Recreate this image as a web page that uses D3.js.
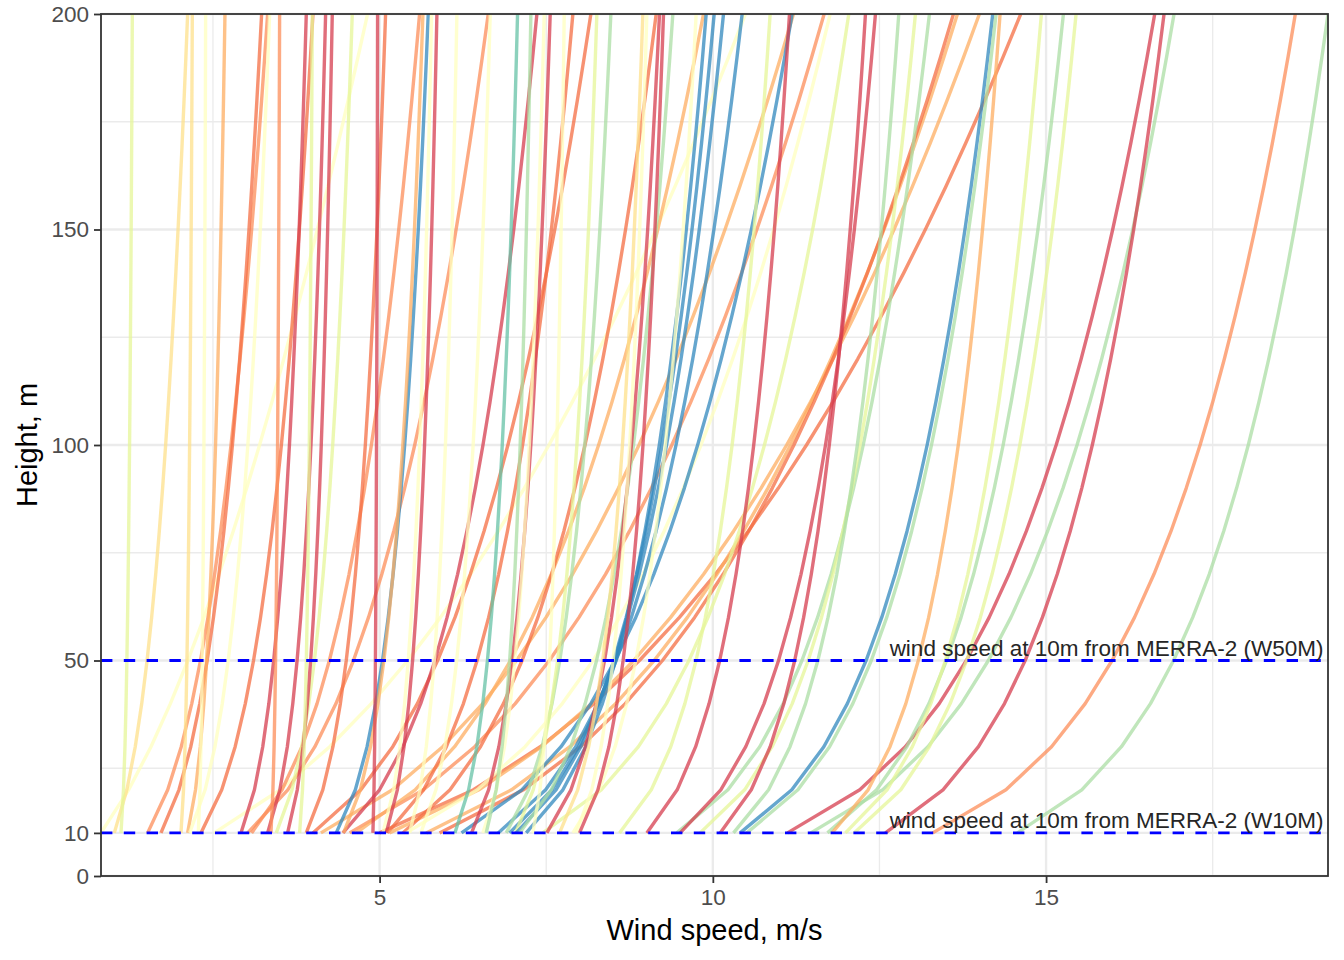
<!DOCTYPE html>
<html>
<head>
<meta charset="utf-8">
<script src="https://cdn.jsdelivr.net/npm/d3@7"></script>
<style>
  body { margin: 0; background: #ffffff; }
  text { font-family: "Liberation Sans", Arial, sans-serif; }
</style>
</head>
<body>
<svg id="chart" width="1344" height="960"></svg>
<script>
// heights of the profile points, m
var heights = [10, 20, 30, 40, 50, 60, 70, 80, 90, 100, 110, 120, 130, 140, 150, 160, 170, 180, 190, 200];

// wind speed of every curve read at its foot (10 m) and at the top of the panel (200 m), m/s
var w10 = [0.82, 1.02, 1.12, 1.52, 1.72, 2.02, 2.12, 2.15, 2.28, 2.32,
  2.52, 2.92, 3.02, 3.08, 3.32, 3.37, 3.45, 3.62, 3.80, 3.90,
  4.00, 4.12, 4.35, 4.45, 4.46, 4.55, 4.65, 4.90, 5.00, 5.05,
  5.10, 5.12, 5.15, 5.35, 5.40, 5.45, 5.62, 5.70, 5.90, 6.13,
  6.23, 6.38, 6.55, 6.60, 6.78, 6.90, 6.95, 7.04, 7.05, 7.10,
  7.20, 7.30, 7.45, 7.51, 7.70, 7.90, 7.95, 8.00, 8.60, 9.01,
  9.46, 9.51, 9.81, 10.11, 10.31, 10.41, 10.51, 11.12, 11.47, 11.72,
  11.79, 11.99, 12.12, 12.59, 13.30, 14.57];
var w200 = [4.82, 2.12, 1.29, 3.32, 3.23, 2.19, 2.68, 3.35, 2.39, 4.00,
  10.49, 3.90, 6.63, 5.60, 4.19, 3.50, 4.59, 4.29, 3.99, 5.09,
  8.17, 11.21, 5.73, 7.36, 5.65, 11.67, 9.86, 4.97, 14.62, 5.78,
  5.86, 7.90, 14.00, 9.15, 11.76, 6.16, 6.66, 13.67, 13.61, 7.07,
  11.19, 7.56, 7.47, 7.27, 10.44, 8.47, 10.16, 8.26, 10.02, 9.40,
  9.90, 7.77, 12.04, 9.20, 8.95, 9.75, 9.01, 9.26, 10.86, 11.15,
  13.25, 12.44, 13.04, 12.29, 12.79, 14.20, 14.25, 16.63, 16.92, 15.26,
  14.31, 14.93, 15.45, 16.77, 18.74, 19.23];
// colour class of each curve, 1 = red ... 10 = blue
var shade = [6, 5, 7, 3, 2, 5, 4, 6, 6, 2,
  6, 1, 3, 3, 1, 3, 7, 1, 7, 2,
  2, 4, 10, 1, 4, 3, 4, 1, 2, 6,
  1, 2, 4, 2, 6, 6, 6, 4, 2, 9,
  10, 1, 6, 8, 10, 8, 10, 7, 10, 8,
  10, 6, 7, 1, 5, 6, 6, 1, 7, 1,
  8, 1, 7, 1, 8, 10, 8, 1, 8, 8,
  4, 7, 7, 1, 3, 8];

var xTicks = [5, 10, 15];
var xMinor = [2.5, 7.5, 12.5, 17.5];
var yTicks = [0, 10, 50, 100, 150, 200];
var yMinor = [25, 75, 125, 175];
var refHeights = [10, 50];
var refLabels = ["wind speed at 10m from MERRA-2 (W10M)", "wind speed at 10m from MERRA-2 (W50M)"];

var palette = ["#d53e4f", "#f46d43", "#fc8d59", "#fdae61", "#fee08b", "#ffffbf",
  "#e6f598", "#abdda4", "#66c2a5", "#3288bd"];

var svg = d3.select("#chart");
var pLeft = 101, pRight = 1328, pTop = 14, pBottom = 876;

var x = d3.scaleLinear().domain([d3.min(w10), d3.max(w200)]).range([pLeft, pRight]);
var y = d3.scaleLinear().domain([0, 200]).range([pBottom, pTop]);
var colour = d3.scaleOrdinal().domain(d3.range(1, 11)).range(palette);

// power law profile through the two read speeds
var profiles = w10.map(function(v, i) {
  var a = Math.log(w200[i] / v) / Math.log(20);
  return {
    shade: shade[i],
    points: heights.map(function(h) { return {h: h, v: v * Math.pow(h / 10, a)}; })
  };
});

svg.append("defs").append("clipPath").attr("id", "panel")
  .append("rect").attr("x", pLeft).attr("y", pTop)
  .attr("width", pRight - pLeft).attr("height", pBottom - pTop);

// grid
var grid = svg.append("g");
grid.selectAll(".xminor").data(xMinor).enter().append("line")
  .attr("x1", d => x(d)).attr("x2", d => x(d)).attr("y1", pTop).attr("y2", pBottom)
  .attr("stroke", "#ebebeb").attr("stroke-width", 1.3);
grid.selectAll(".yminor").data(yMinor).enter().append("line")
  .attr("x1", pLeft).attr("x2", pRight).attr("y1", d => y(d)).attr("y2", d => y(d))
  .attr("stroke", "#ebebeb").attr("stroke-width", 1.3);
grid.selectAll(".xmajor").data(xTicks).enter().append("line")
  .attr("x1", d => x(d)).attr("x2", d => x(d)).attr("y1", pTop).attr("y2", pBottom)
  .attr("stroke", "#ebebeb").attr("stroke-width", 2.4);
grid.selectAll(".ymajor").data(yTicks).enter().append("line")
  .attr("x1", pLeft).attr("x2", pRight).attr("y1", d => y(d)).attr("y2", d => y(d))
  .attr("stroke", "#ebebeb").attr("stroke-width", 2.4);

var line = d3.line().x(d => x(d.v)).y(d => y(d.h));

svg.append("g").attr("clip-path", "url(#panel)")
  .selectAll("path").data(profiles).enter().append("path")
  .attr("d", d => line(d.points))
  .attr("fill", "none")
  .attr("stroke", d => colour(d.shade))
  .attr("stroke-opacity", 0.75)
  .attr("stroke-width", 3.4)
  .attr("stroke-linejoin", "round");

// reference heights
svg.append("g").selectAll("line").data(refHeights).enter().append("line")
  .attr("x1", pLeft).attr("x2", pRight).attr("y1", d => y(d)).attr("y2", d => y(d))
  .attr("stroke", "#0000ff").attr("stroke-width", 2.8)
  .attr("stroke-dasharray", "11.4,11.4");

svg.append("g").selectAll("text").data(refHeights).enter().append("text")
  .attr("x", pRight - 4.5).attr("y", d => y(d) - 4.5)
  .attr("text-anchor", "end")
  .attr("font-size", "22.5px")
  .attr("fill", "#262626")
  .text((d, i) => refLabels[i]);

svg.append("rect").attr("x", pLeft).attr("y", pTop)
  .attr("width", pRight - pLeft).attr("height", pBottom - pTop)
  .attr("fill", "none").attr("stroke", "#333333").attr("stroke-width", 1.8);

// axes
var xAxis = svg.append("g").attr("transform", "translate(0," + pBottom + ")")
  .call(d3.axisBottom(x).tickValues(xTicks).tickSize(7).tickPadding(6));
var yAxis = svg.append("g").attr("transform", "translate(" + pLeft + ",0)")
  .call(d3.axisLeft(y).tickValues(yTicks).tickSize(7).tickPadding(5));
[xAxis, yAxis].forEach(function(ax) {
  ax.select(".domain").remove();
  ax.selectAll("line").attr("stroke", "#333333").attr("stroke-width", 1.8);
  ax.selectAll("text").attr("fill", "#4d4d4d").attr("font-size", "22.5px")
    .attr("font-family", "Liberation Sans, Arial, sans-serif");
});

svg.append("text").attr("x", (pLeft + pRight) / 2).attr("y", 940)
  .attr("text-anchor", "middle").attr("font-size", "29px").attr("fill", "#000")
  .text("Wind speed, m/s");
svg.append("text").attr("transform", "translate(37," + (pTop + pBottom) / 2 + ") rotate(-90)")
  .attr("text-anchor", "middle").attr("font-size", "29px").attr("fill", "#000")
  .text("Height, m");
</script>
</body>
</html>
